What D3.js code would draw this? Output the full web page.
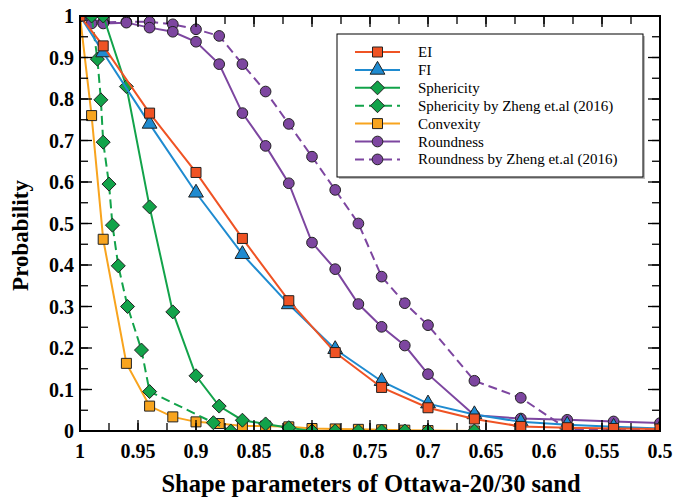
<!DOCTYPE html>
<html>
<head>
<meta charset="utf-8">
<script src="https://cdn.jsdelivr.net/npm/d3@7"></script>
<style>
  body { margin: 0; background: #fff; }
  text { font-family: "Liberation Serif", "Times New Roman", serif; }
</style>
</head>
<body>
<div id="chart"></div>
<script>
// valores
var ei_x = [1, 0.98, 0.94, 0.90, 0.86, 0.82, 0.78, 0.74, 0.70, 0.66, 0.62, 0.58, 0.54, 0.50];
var ei_y = [1, 0.928, 0.766, 0.623, 0.464, 0.314, 0.189, 0.105, 0.056, 0.029, 0.011, 0.008, 0.006, 0.005];
var fi_x = [1, 0.98, 0.94, 0.90, 0.86, 0.82, 0.78, 0.74, 0.70, 0.66, 0.62, 0.58, 0.54, 0.50];
var fi_y = [1, 0.912, 0.740, 0.574, 0.426, 0.305, 0.197, 0.120, 0.066, 0.040, 0.022, 0.015, 0.010, 0.006];
var sph_x = [1, 0.98, 0.96, 0.94, 0.92, 0.90, 0.88, 0.86, 0.84, 0.82, 0.80, 0.78, 0.76, 0.74, 0.72, 0.70, 0.66];
var sph_y = [1, 1, 0.83, 0.54, 0.287, 0.133, 0.060, 0.026, 0.017, 0.008, 0, 0, 0, 0, 0, 0, 0];
var zsph_x = [1, 0.99, 0.985, 0.982, 0.98, 0.975, 0.972, 0.967, 0.959, 0.947, 0.94, 0.885, 0.87];
var zsph_y = [1, 1, 0.896, 0.798, 0.696, 0.595, 0.496, 0.398, 0.300, 0.195, 0.095, 0.020, 0];
var conv_x = [1, 0.99, 0.98, 0.96, 0.94, 0.92, 0.90, 0.88, 0.86, 0.84, 0.82, 0.80, 0.78, 0.76, 0.74, 0.72, 0.70, 0.66];
var conv_y = [1, 0.76, 0.462, 0.163, 0.060, 0.034, 0.022, 0.018, 0.012, 0.012, 0.010, 0.006, 0.005, 0.004, 0.003, 0.002, 0.001, 0];
var round_x = [1, 0.99, 0.98, 0.96, 0.94, 0.92, 0.90, 0.88, 0.86, 0.84, 0.82, 0.80, 0.78, 0.76, 0.74, 0.72, 0.70, 0.66, 0.62, 0.58, 0.54, 0.50];
var round_y = [1, 0.982, 0.982, 0.984, 0.972, 0.962, 0.938, 0.884, 0.766, 0.687, 0.597, 0.454, 0.390, 0.306, 0.251, 0.206, 0.137, 0.038, 0.030, 0.027, 0.023, 0.019];
var zround_x = [1, 0.98, 0.96, 0.94, 0.92, 0.90, 0.88, 0.86, 0.84, 0.82, 0.80, 0.78, 0.76, 0.74, 0.72, 0.70, 0.66, 0.62, 0.58, 0.54, 0.50];
var zround_y = [1, 0.985, 0.986, 0.986, 0.980, 0.968, 0.952, 0.884, 0.818, 0.740, 0.661, 0.581, 0.500, 0.372, 0.308, 0.255, 0.121, 0.080, 0.005, 0.003, 0.002];

var x_ticks = [1, 0.95, 0.9, 0.85, 0.8, 0.75, 0.7, 0.65, 0.6, 0.55, 0.5];
var y_ticks = [0, 0.1, 0.2, 0.3, 0.4, 0.5, 0.6, 0.7, 0.8, 0.9, 1];

var series = [
  { name: "EI", xs: ei_x, ys: ei_y, color: "#ef5324", marker: "square", dash: null },
  { name: "FI", xs: fi_x, ys: fi_y, color: "#1f8bd0", marker: "triangle", dash: null },
  { name: "Sphericity", xs: sph_x, ys: sph_y, color: "#12a34a", marker: "diamond", dash: null },
  { name: "Sphericity by Zheng et.al (2016)", xs: zsph_x, ys: zsph_y, color: "#12a34a", marker: "diamond", dash: "9,5" },
  { name: "Convexity", xs: conv_x, ys: conv_y, color: "#f8a41e", marker: "square", dash: null },
  { name: "Roundness", xs: round_x, ys: round_y, color: "#7d46a0", marker: "circle", dash: null },
  { name: "Roundness by Zheng et.al (2016)", xs: zround_x, ys: zround_y, color: "#7d46a0", marker: "circle", dash: "9,5" }
];

var width = 691, height = 498;
var margin = { top: 16, right: 31, bottom: 67, left: 80 };
var w = width - margin.left - margin.right;
var h = height - margin.top - margin.bottom;

var svg = d3.select("#chart").append("svg")
  .attr("width", width)
  .attr("height", height);

var xScale = d3.scaleLinear().domain([1, 0.5]).range([0, w]);
var yScale = d3.scaleLinear().domain([0, 1]).range([h, 0]);

var g = svg.append("g").attr("transform", "translate(" + margin.left + "," + margin.top + ")");

svg.append("defs").append("clipPath").attr("id", "plotclip")
  .append("rect").attr("width", w).attr("height", h);

// simbolos
function markerPath(type) {
  if (type === "square") return d3.symbol().type(d3.symbolSquare).size(100)();
  if (type === "triangle") return d3.symbol().type(d3.symbolTriangle).size(95)();
  if (type === "diamond") return "M0,-7L7,0L0,7L-7,0Z";
  return d3.symbol().type(d3.symbolCircle).size(90)();
}

var plot = g.append("g").attr("clip-path", "url(#plotclip)");
var line = d3.line().x(function (d) { return xScale(d[0]); }).y(function (d) { return yScale(d[1]); });

// se dibuja en orden inverso para que EI quede encima
series.slice().reverse().forEach(function (s) {
  var pts = s.xs.map(function (x, i) { return [x, s.ys[i]]; });
  plot.append("path")
    .datum(pts)
    .attr("d", line)
    .attr("fill", "none")
    .attr("stroke", s.color)
    .attr("stroke-width", 2)
    .attr("stroke-dasharray", s.dash);
  plot.selectAll(null)
    .data(pts)
    .enter()
    .append("path")
    .attr("d", markerPath(s.marker))
    .attr("transform", function (d) { return "translate(" + xScale(d[0]) + "," + yScale(d[1]) + ")"; })
    .attr("fill", s.color)
    .attr("stroke", "#222")
    .attr("stroke-width", 1);
});

// marco y ticks hacia adentro
var xMinor = d3.range(0, 21).map(function (i) { return 1 - i * 0.025; });
var yMinor = d3.range(0, 21).map(function (i) { return i * 0.05; });

function tickLines(vals, isX, len) {
  vals.forEach(function (v) {
    if (isX) {
      var px = xScale(v);
      g.append("line").attr("x1", px).attr("x2", px).attr("y1", h).attr("y2", h - len).attr("stroke", "#000").attr("stroke-width", 1.3);
      g.append("line").attr("x1", px).attr("x2", px).attr("y1", 0).attr("y2", len).attr("stroke", "#000").attr("stroke-width", 1.3);
    } else {
      var py = yScale(v);
      g.append("line").attr("x1", 0).attr("x2", len).attr("y1", py).attr("y2", py).attr("stroke", "#000").attr("stroke-width", 1.3);
      g.append("line").attr("x1", w).attr("x2", w - len).attr("y1", py).attr("y2", py).attr("stroke", "#000").attr("stroke-width", 1.3);
    }
  });
}
tickLines(xMinor, true, 8);
tickLines(x_ticks, true, 11);
tickLines(yMinor, false, 8);
tickLines(y_ticks, false, 12);

g.append("rect").attr("width", w).attr("height", h)
  .attr("fill", "none").attr("stroke", "#000").attr("stroke-width", 2);

// etiquetas de ejes
g.selectAll(".xlab").data(x_ticks).enter().append("text")
  .attr("class", "xlab")
  .attr("x", function (d) { return xScale(d); })
  .attr("y", h + 27)
  .attr("text-anchor", "middle")
  .attr("font-size", 20).attr("font-weight", "bold")
  .text(function (d) { return d; });

g.selectAll(".ylab").data(y_ticks).enter().append("text")
  .attr("class", "ylab")
  .attr("x", -6)
  .attr("y", function (d) { return yScale(d) + 7; })
  .attr("text-anchor", "end")
  .attr("font-size", 20).attr("font-weight", "bold")
  .text(function (d) { return d; });

svg.append("text")
  .attr("x", margin.left + w / 2 + 1)
  .attr("y", 492)
  .attr("text-anchor", "middle")
  .attr("font-size", 24.5).attr("font-weight", "bold")
  .text("Shape parameters of Ottawa-20/30 sand");

svg.append("text")
  .attr("transform", "translate(28," + (margin.top + h / 2 + 12) + ") rotate(-90)")
  .attr("text-anchor", "middle")
  .attr("font-size", 23).attr("font-weight", "bold")
  .text("Probability");

// leyenda
var legend = svg.append("g").attr("transform", "translate(337,34)");
legend.append("rect").attr("x", 2).attr("y", 2).attr("width", 306).attr("height", 143).attr("fill", "#bbb");
legend.append("rect").attr("width", 306).attr("height", 143).attr("fill", "#fff").attr("stroke", "#000").attr("stroke-width", 1);

var items = legend.selectAll(".item").data(series).enter().append("g")
  .attr("class", "item")
  .attr("transform", function (d, i) { return "translate(0," + (18 + i * 17.9) + ")"; });
items.append("line").attr("x1", 18).attr("x2", 63).attr("y1", 0).attr("y2", 0)
  .attr("stroke", function (d) { return d.color; })
  .attr("stroke-width", 2)
  .attr("stroke-dasharray", function (d) { return d.dash; });
items.append("path")
  .attr("d", function (d) { return markerPath(d.marker); })
  .attr("transform", "translate(40.5,0)")
  .attr("fill", function (d) { return d.color; })
  .attr("stroke", "#222").attr("stroke-width", 1);
items.append("text").attr("x", 81).attr("y", 5)
  .attr("font-size", 15)
  .text(function (d) { return d.name; });
</script>
</body>
</html>
